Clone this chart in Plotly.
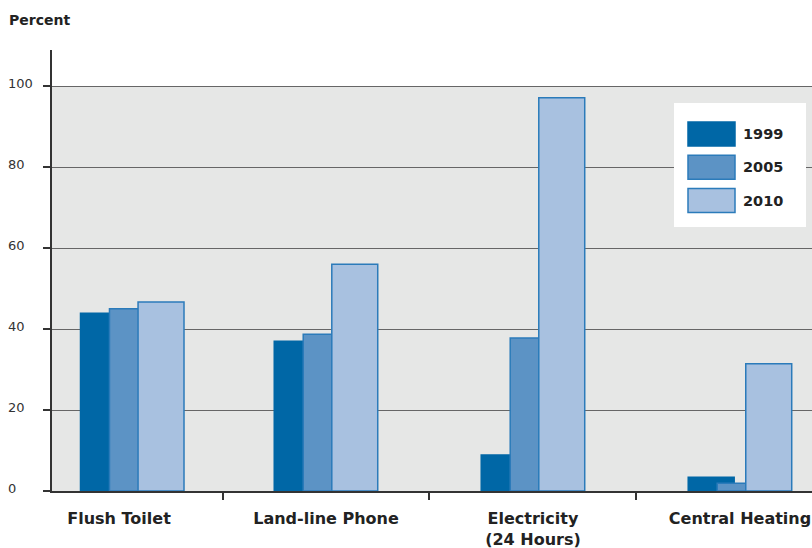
import plotly.graph_objects as go

categories = ["Flush Toilet", "Land-line Phone", "Electricity<br>(24 Hours)", "Central Heating"]
years = ["1999", "2005", "2010"]
values_1999 = [43.9, 37.0, 8.9, 3.4]
values_2005 = [45.0, 38.7, 37.8, 1.9]
values_2010 = [46.7, 56.0, 97.1, 31.4]
y_ticks = [0, 20, 40, 60, 80, 100]

series = [values_1999, values_2005, values_2010]
fills = ["#0067a6", "#5c93c5", "#a8c1e0"]
outlines = ["#0067a6", "#2b7bba", "#2b7bba"]
bar_offsets = [-0.25, -0.11, 0.028]
group_shift = [0.064, 0, 0, 0]
bar_width = 0.222

FONT = "DejaVu Sans"
fig = go.Figure()
for name, vals, fc, lc, off in zip(years, series, fills, outlines, bar_offsets):
    fig.add_trace(go.Bar(
        x=categories, y=vals, name=name,
        marker=dict(color=fc, line=dict(color=lc, width=1.5)),
        width=bar_width, offset=[off + s for s in group_shift],
        showlegend=False, hoverinfo="x+y+name",
    ))

W, H = 812, 548
ml, mr, mt, mb = 52, 0, 50, 57
pw, ph = W - ml - mr, H - mt - mb

def px_x(p):
    return (p - ml) / pw

def px_y(p):
    return (H - mb - p) / ph

shapes = [dict(type="rect", xref="paper", yref="y", x0=0, x1=1, y0=0, y1=100,
               fillcolor="#e6e7e6", line=dict(width=0), layer="below")]
annotations = []
for t in y_ticks:
    annotations.append(dict(xref="paper", yref="y", x=px_x(6), y=t, text=str(t),
                            xanchor="left", yanchor="middle", showarrow=False, yshift=3,
                            font=dict(family=FONT, size=13, color="#333333")))
annotations.append(dict(xref="paper", yref="paper", x=px_x(7), y=px_y(20), text="<b>Percent</b>",
                        xanchor="left", yanchor="middle", showarrow=False,
                        font=dict(family=FONT, size=14, color="#222222")))

# custom legend
shapes.append(dict(type="rect", xref="paper", yref="paper", x0=px_x(674), x1=px_x(806),
                   y0=px_y(227), y1=px_y(103), fillcolor="white", line=dict(width=0), layer="above"))
legend_centers = [134, 167.3, 200.5]
for name, fc, lc, cy in zip(years, fills, outlines, legend_centers):
    shapes.append(dict(type="rect", xref="paper", yref="paper", x0=px_x(688), x1=px_x(735),
                       y0=px_y(cy + 12), y1=px_y(cy - 12), fillcolor=fc,
                       line=dict(color=lc, width=1.5), layer="above"))
    annotations.append(dict(xref="paper", yref="paper", x=px_x(741), y=px_y(cy), text="<b>%s</b>" % name,
                            xanchor="left", yanchor="middle", showarrow=False,
                            font=dict(family=FONT, size=14.5, color="#222222")))

fig.update_layout(
    width=W, height=H, margin=dict(l=ml, r=mr, t=mt, b=mb),
    paper_bgcolor="white", plot_bgcolor="rgba(0,0,0,0)",
    barmode="overlay", showlegend=False,
    shapes=shapes, annotations=annotations,
    xaxis=dict(type="category", range=[-0.3237, 3.348], tickson="boundaries",
               ticks="outside", ticklen=7, tickwidth=2, tickcolor="#333333",
               showline=True, linecolor="#333333", linewidth=2, showgrid=False,
               ticklabelstandoff=12,
               tickfont=dict(family=FONT, size=16, color="#222222"),
               ticktext=["<b>%s</b>" % c for c in categories], tickvals=categories),
    yaxis=dict(range=[0, 108.9], tickvals=y_ticks, showticklabels=False,
               ticks="outside", ticklen=7, tickwidth=2, tickcolor="#333333",
               showline=True, linecolor="#333333", linewidth=2,
               showgrid=True, gridcolor="#666666", gridwidth=1, zeroline=False),
)

fig.write_html("out.html", config={"displayModeBar": False},
               post_script="document.body.style.margin='0';")
